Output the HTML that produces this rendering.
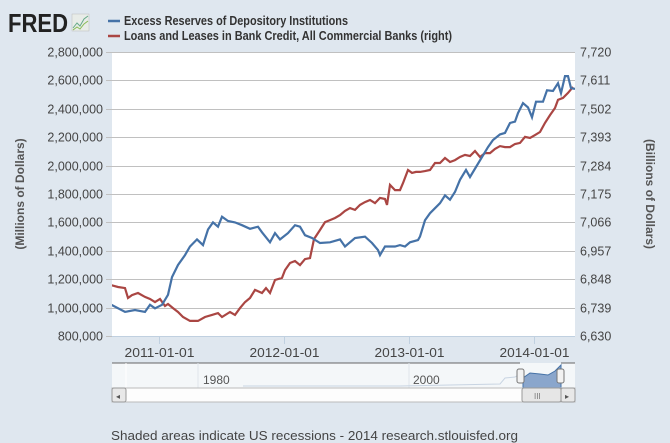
<!DOCTYPE html>
<html><head><meta charset="utf-8"><style>
body{margin:0;background:#dfe7ef;}
svg{display:block;font-family:"Liberation Sans","DejaVu Sans",sans-serif;}
</style></head><body>
<svg id="c" width="670" height="443" viewBox="0 0 670 443">
<rect x="0" y="0" width="670" height="443" fill="#dfe7ef"/>
<g>
<text x="8" y="32" font-size="26" font-weight="bold" fill="#222" textLength="60" lengthAdjust="spacingAndGlyphs">FRED</text>
<rect x="72" y="14" width="17" height="17" fill="#e8ece8" stroke="#bbb" stroke-width="0.5"/>
<polyline points="73,28 77,23 80,26 84,19 88,16" fill="none" stroke="#6a8" stroke-width="1"/>
<polyline points="73,30 77,27 80,29 84,24 88,21" fill="none" stroke="#8b5" stroke-width="1"/>
</g>
<g>
<line x1="108" y1="21" x2="120" y2="21" stroke="#4572a7" stroke-width="2.5"/>
<text x="124" y="25" font-size="13" font-weight="bold" fill="#333" textLength="224" lengthAdjust="spacingAndGlyphs">Excess Reserves of Depository Institutions</text>
<line x1="108" y1="36" x2="120" y2="36" stroke="#aa4643" stroke-width="2.5"/>
<text x="124" y="40" font-size="13" font-weight="bold" fill="#333" textLength="328" lengthAdjust="spacingAndGlyphs">Loans and Leases in Bank Credit, All Commercial Banks (right)</text>
</g>
<rect x="112" y="52" width="463" height="284" fill="#fff"/>
<g id="grid"></g>
<g id="series"></g>
<g id="axes"></g>
<text transform="translate(24,194) rotate(-90)" text-anchor="middle" font-size="12" font-weight="bold" fill="#555">(Millions of Dollars)</text>
<text transform="translate(646,194) rotate(90)" text-anchor="middle" font-size="12" font-weight="bold" fill="#555">(Billions of Dollars)</text>
<g>
<rect x="112" y="363" width="463" height="25" fill="#f4f7f9"/>
<line x1="112" y1="363" x2="520" y2="363" stroke="#666" stroke-width="1"/>
<line x1="126" y1="363" x2="126" y2="388" stroke="#fff"/>
<line x1="198" y1="363" x2="198" y2="388" stroke="#e0e6ec"/>
<line x1="409" y1="363" x2="409" y2="388" stroke="#e0e6ec"/>
<text x="203" y="384" font-size="12" fill="#555">1980</text>
<text x="413" y="384" font-size="12" fill="#555">2000</text>
<polyline points="243,386 400,386 500,384 505,378 515,377 520,374" fill="none" stroke="#c8d4e2" stroke-width="1"/>
<polygon points="523,388 523,378 530,373 540,374 548,375 555,371 561,365 561,388" fill="#8aa6cc" stroke="#4572a7" stroke-width="1"/>
<line x1="561" y1="363" x2="575" y2="363" stroke="#666"/>
<rect x="517" y="369" width="7" height="14" rx="2" fill="#f2f2f2" stroke="#777"/>
<rect x="557" y="369" width="7" height="14" rx="2" fill="#f2f2f2" stroke="#777"/>
</g>
<g>
<rect x="112" y="388" width="463" height="14" fill="#fdfdfd" stroke="#bbb"/>
<rect x="112" y="388" width="14" height="14" rx="2" fill="#e8e8e8" stroke="#999"/>
<text x="116" y="399" font-size="8" fill="#555">◂</text>
<rect x="522" y="388" width="39" height="14" rx="2" fill="#e6e6e6" stroke="#999"/>
<text x="534" y="399" font-size="8" fill="#777">III</text>
<rect x="561" y="388" width="14" height="14" rx="2" fill="#e8e8e8" stroke="#999"/>
<text x="565" y="399" font-size="8" fill="#555">▸</text>
</g>
<text x="111" y="440" font-size="13" fill="#444" textLength="407" lengthAdjust="spacingAndGlyphs">Shaded areas indicate US recessions - 2014 research.stlouisfed.org</text>
</svg>
<script>
const leftTicks=[800000,1000000,1200000,1400000,1600000,1800000,2000000,2200000,2400000,2600000,2800000];
const rightTicks=[6630,6739,6848,6957,7066,7175,7284,7393,7502,7611,7720];
const xTickYears=[2011,2012,2013,2014];
const xTickLabels=["2011-01-01","2012-01-01","2013-01-01","2014-01-01"];
const reservesDates=[2010.608,2010.728,2010.808,2010.888,2010.928,2010.968,2011.024,2011.072,2011.104,2011.152,2011.208,2011.248,2011.304,2011.352,2011.392,2011.432,2011.472,2011.504,2011.552,2011.608,2011.664,2011.728,2011.792,2011.824,2011.888,2011.928,2011.968,2012.032,2012.088,2012.128,2012.168,2012.224,2012.288,2012.368,2012.448,2012.488,2012.568,2012.648,2012.704,2012.752,2012.768,2012.808,2012.888,2012.928,2012.968,2013.008,2013.072,2013.088,2013.128,2013.168,2013.208,2013.248,2013.288,2013.328,2013.368,2013.408,2013.456,2013.488,2013.536,2013.584,2013.632,2013.672,2013.728,2013.768,2013.808,2013.848,2013.872,2013.912,2013.952,2013.984,2014.016,2014.072,2014.104,2014.152,2014.192,2014.216,2014.248,2014.272,2014.296,2014.328];
const reservesValues=[1025000,970000,983000,970000,1020000,995000,1020000,1090000,1215000,1300000,1370000,1430000,1480000,1440000,1550000,1600000,1570000,1640000,1610000,1600000,1580000,1555000,1570000,1530000,1460000,1525000,1480000,1525000,1580000,1570000,1510000,1490000,1455000,1460000,1480000,1430000,1490000,1500000,1455000,1405000,1370000,1430000,1430000,1440000,1430000,1460000,1475000,1500000,1615000,1665000,1700000,1735000,1790000,1760000,1815000,1900000,1970000,1920000,1990000,2060000,2130000,2180000,2220000,2230000,2300000,2310000,2370000,2440000,2410000,2340000,2450000,2450000,2530000,2525000,2580000,2510000,2630000,2630000,2545000,2540000];
const loansDates=[2010.608,2010.672,2010.728,2010.752,2010.784,2010.832,2010.888,2010.928,2010.968,2011.008,2011.048,2011.072,2011.112,2011.152,2011.192,2011.248,2011.312,2011.368,2011.424,2011.472,2011.504,2011.568,2011.608,2011.648,2011.688,2011.728,2011.768,2011.824,2011.856,2011.888,2011.928,2011.984,2012.008,2012.048,2012.088,2012.128,2012.168,2012.208,2012.240,2012.288,2012.328,2012.368,2012.408,2012.448,2012.488,2012.528,2012.568,2012.608,2012.648,2012.688,2012.728,2012.768,2012.808,2012.824,2012.848,2012.888,2012.928,2012.952,2012.992,2013.024,2013.056,2013.088,2013.128,2013.168,2013.208,2013.248,2013.288,2013.328,2013.368,2013.408,2013.448,2013.488,2013.528,2013.568,2013.608,2013.648,2013.688,2013.728,2013.768,2013.808,2013.848,2013.888,2013.928,2013.968,2014.008,2014.048,2014.088,2014.128,2014.168,2014.192,2014.232,2014.272,2014.312];
const loansValues=[6826,6818,6814,6776,6787,6795,6780,6772,6760,6772,6745,6753,6737,6722,6703,6688,6688,6703,6711,6718,6703,6722,6711,6737,6760,6776,6807,6795,6814,6795,6845,6853,6883,6910,6918,6902,6925,6929,7002,7037,7067,7075,7083,7094,7110,7121,7114,7133,7144,7152,7140,7160,7156,7133,7210,7190,7190,7217,7267,7256,7260,7260,7263,7267,7294,7294,7313,7298,7305,7317,7325,7321,7340,7317,7332,7332,7348,7359,7355,7355,7367,7371,7394,7390,7401,7413,7448,7478,7505,7536,7544,7563,7586];

const NS="http://www.w3.org/2000/svg";
const PL=112,PR=575,PT=52,PB=336;
function xs(d){return 110+(d-2010.608)*125;}
function yl(v){return PB-(v-800000)/(2800000-800000)*(PB-PT);}
function yr(v){return PB-(v-6630)/(7720-6630)*(PB-PT);}
function mk(tag,attrs,parent){const e=document.createElementNS(NS,tag);for(const k in attrs)e.setAttribute(k,attrs[k]);parent.appendChild(e);return e;}
const grid=document.getElementById('grid'),axes=document.getElementById('axes'),series=document.getElementById('series');
leftTicks.forEach((t,i)=>{
  const y=Math.round(yl(t))+0.5;
  const g=mk('line',{x1:106,x2:PR,y1:y,y2:y,stroke:'#c0c0c0','stroke-width':1},grid);
  
  
  const lt=mk('text',{x:103,y:y+4,'text-anchor':'end','font-size':12.5,fill:'#444'},axes);
  lt.textContent=t.toLocaleString('en-US');
  
  
  const rt=mk('text',{x:580,y:y+4,'font-size':12.5,fill:'#444'},axes);
  rt.textContent=rightTicks[i].toLocaleString('en-US');
  
  
});
mk('line',{x1:PL,x2:PR,y1:PB+0.5,y2:PB+0.5,stroke:'#c0d0e0','stroke-width':1},axes);
xTickYears.forEach((yr_,i)=>{
  const x=Math.round(xs(yr_))+0.5;
  const tk=mk('line',{x1:x,x2:x,y1:PB,y2:PB+8,stroke:'#c0d0e0'},axes);
  
  
  const t=mk('text',{x:x-35,y:357,'font-size':13,fill:'#444',textLength:70,lengthAdjust:'spacingAndGlyphs'},axes);
  t.textContent=xTickLabels[i];
  
  
});
const clip=mk('clipPath',{id:'pc'},series);mk('rect',{x:PL,y:PT-5,width:PR-PL,height:PB-PT+5},clip);
const l=mk('polyline',{points:loansDates.map((d,i)=>xs(d).toFixed(1)+','+yr(loansValues[i]).toFixed(1)).join(' '),fill:'none',stroke:'#aa4643','stroke-width':2.2,'clip-path':'url(#pc)'},series);


const r=mk('polyline',{points:reservesDates.map((d,i)=>xs(d).toFixed(1)+','+yl(reservesValues[i]).toFixed(1)).join(' '),fill:'none',stroke:'#4572a7','stroke-width':2.2,'clip-path':'url(#pc)'},series);


</script>
</body></html>
